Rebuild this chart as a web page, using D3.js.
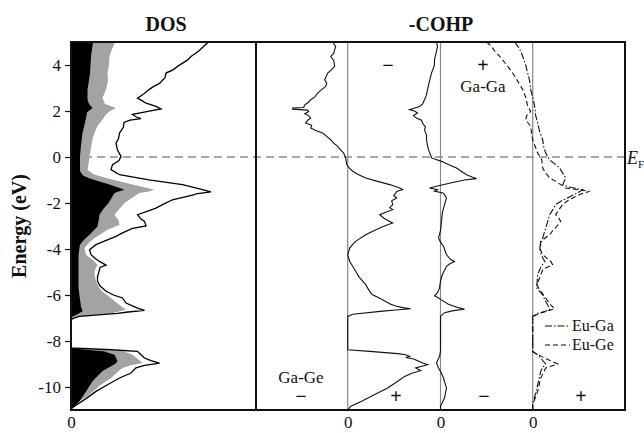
<!DOCTYPE html>
<html>
<head>
<meta charset="utf-8">
<script src="https://cdn.jsdelivr.net/npm/d3@7"></script>
<style>
  body { margin: 0; background: #fff; }
  text { font-family: "Liberation Serif", "Times New Roman", serif; }
</style>
</head>
<body>
<svg id="chart" width="644" height="433"></svg>
<script>
// data: [energy (eV), value]
const dosTotal = [[5.0,27.5],[4.8,26.5],[4.6,25.5],[4.37,24],[4.2,23.2],[3.94,21.3],[3.8,20.5],[3.65,19],[3.45,18.8],[3.2,17.7],[3.05,16.4],[2.93,15.6],[2.75,14.6],[2.56,13.3],[2.45,14.2],[2.35,14.9],[2.2,17],[2.09,18],[1.98,15.4],[1.85,12.3],[1.75,13],[1.67,14],[1.6,11.8],[1.5,10.6],[1.3,10.5],[1.04,9.7],[0.8,9.5],[0.6,9],[0.3,9.3],[0.03,10],[-0.15,9.6],[-0.33,8.3],[-0.55,8.0],[-0.77,9.7],[-0.99,15.6],[-1.2,22.3],[-1.42,26.3],[-1.52,28],[-1.6,25],[-1.64,24.7],[-1.86,20.3],[-2.05,18.5],[-2.22,17],[-2.4,14.8],[-2.51,13.3],[-2.7,14],[-2.8,14.7],[-3.0,15],[-3.1,12.3],[-3.3,10.3],[-3.45,9],[-3.65,6.8],[-3.81,5],[-4.03,3.7],[-4.25,4],[-4.4,4.8],[-4.54,5.7],[-4.7,7],[-4.8,5.8],[-4.9,5.7],[-5.2,5.3],[-5.4,5.3],[-5.6,5.8],[-5.84,7],[-6.0,8.5],[-6.13,10.3],[-6.35,11],[-6.57,13.3],[-6.67,14.7],[-6.75,11],[-6.8,9.3],[-6.93,1.7],[-7.03,0.3],[-7.1,0],[-8.3,0],[-8.38,8],[-8.45,13.3],[-8.6,14],[-8.74,14.7],[-8.85,16],[-8.96,17.7],[-9.06,14.7],[-9.17,13],[-9.39,12],[-9.61,9.7],[-9.9,7.3],[-10.19,5],[-10.55,2.7],[-10.84,0.7],[-10.95,0],[-11,0]];
const dosGray = [[5.0,8.8],[4.7,8.2],[4.37,7.7],[4.0,7.6],[3.65,7.3],[3.3,7.4],[2.93,7],[2.56,6.3],[2.3,6.8],[2.13,9],[2.0,7.8],[1.85,7],[1.6,6.2],[1.35,5.3],[1.0,4.6],[0.77,4.3],[0.4,4.0],[0.03,3.7],[-0.3,3.5],[-0.55,3.3],[-0.75,4.5],[-0.91,7],[-1.2,12.3],[-1.42,16.7],[-1.5,15.5],[-1.57,13.7],[-1.8,12],[-2.0,10.7],[-2.25,9.7],[-2.51,8.7],[-2.75,9.5],[-2.95,9.7],[-3.16,7.3],[-3.52,4.7],[-3.75,3.5],[-3.96,2.7],[-4.25,3],[-4.5,4.5],[-4.7,5.3],[-4.9,4.8],[-5.1,4.7],[-5.4,5],[-5.7,5.7],[-5.84,6.2],[-6.13,8],[-6.43,9.7],[-6.64,11],[-6.8,8],[-6.93,1.3],[-7.03,0.2],[-7.1,0],[-8.3,0],[-8.38,6],[-8.45,10.5],[-8.6,12.3],[-8.8,13.5],[-8.96,14.3],[-9.05,12],[-9.17,10.3],[-9.4,9],[-9.61,8],[-9.9,6],[-10.33,3.7],[-10.77,0.7],[-10.9,0],[-11,0]];
const dosBlack = [[5.0,4.4],[4.37,4.0],[3.65,3.8],[3.2,3.5],[2.93,3.3],[2.5,3.3],[2.3,3.6],[2.13,4.3],[1.95,3.2],[1.7,3.0],[1.3,2.6],[1.04,2.3],[0.5,2.0],[0.03,1.8],[-0.62,1.8],[-0.8,2.4],[-0.91,3.5],[-1.05,5.5],[-1.2,7.7],[-1.42,10.7],[-1.5,9.5],[-1.57,8.7],[-2.0,7.5],[-2.25,6.5],[-2.51,5.7],[-2.8,5.5],[-3.02,5.3],[-3.38,3.7],[-3.6,2.6],[-3.81,1.8],[-4.25,1.5],[-4.97,1.5],[-5.7,1.5],[-6.2,1.8],[-6.5,2.0],[-6.71,2.3],[-6.85,1.2],[-6.93,0.3],[-7.0,0],[-8.3,0],[-8.38,3],[-8.45,6.5],[-8.6,8.7],[-8.88,9.3],[-9.0,8.8],[-9.1,8],[-9.3,6.3],[-9.75,4.3],[-10.2,3],[-10.62,1.7],[-10.84,0.7],[-10.95,0],[-11,0]];

const cohpGaGe = [[5.0,-1.5],[4.8,-1.2],[4.67,-1.3],[4.5,-1.4],[4.38,-1.7],[4.2,-1.4],[3.94,-1.3],[3.8,-1.6],[3.65,-2.0],[3.36,-2.3],[3.2,-2.1],[3.07,-2.2],[2.9,-2.7],[2.78,-3.0],[2.6,-3.3],[2.49,-3.7],[2.35,-4.0],[2.27,-4.3],[2.15,-4.4],[2.13,-5.5],[2.08,-5.5],[2.04,-4.0],[1.98,-3.9],[1.88,-4.3],[1.8,-3.9],[1.69,-3.7],[1.6,-4.0],[1.48,-4.2],[1.38,-3.6],[1.26,-3.7],[1.15,-3.2],[1.04,-2.5],[0.9,-2.1],[0.75,-1.7],[0.6,-1.4],[0.46,-1.0],[0.3,-0.7],[0.17,-0.4],[-0.04,-0.2],[-0.33,-0.1],[-0.5,0.2],[-0.62,0.5],[-0.75,1.0],[-0.91,1.8],[-1.05,2.9],[-1.2,4.2],[-1.35,5.2],[-1.42,5.5],[-1.5,4.9],[-1.57,4.8],[-1.68,4.6],[-1.78,4.9],[-1.9,4.4],[-2.07,4.5],[-2.2,4.2],[-2.29,4.5],[-2.4,3.8],[-2.51,3.2],[-2.65,3.6],[-2.78,4.1],[-2.87,4.5],[-2.98,3.8],[-3.09,3.2],[-3.25,2.4],[-3.38,1.8],[-3.55,1.2],[-3.67,0.8],[-3.8,0.5],[-3.96,0.2],[-4.25,0.0],[-4.54,0.2],[-4.75,0.5],[-4.97,0.8],[-5.2,1.1],[-5.4,1.5],[-5.55,1.8],[-5.7,2.0],[-5.97,2.4],[-6.1,3.0],[-6.26,3.7],[-6.4,4.3],[-6.48,4.8],[-6.55,5.5],[-6.6,6.3],[-6.65,4.8],[-6.7,3.5],[-6.84,0.5],[-6.93,0],[-8.38,0],[-8.45,2.2],[-8.55,5.0],[-8.6,5.8],[-8.67,6.2],[-8.72,5.8],[-8.78,6.6],[-8.86,7.0],[-8.96,7.5],[-9.03,8.0],[-9.1,7.4],[-9.17,6.8],[-9.22,7.0],[-9.29,7.3],[-9.4,6.4],[-9.54,5.7],[-9.75,5.0],[-10.04,4.0],[-10.33,2.7],[-10.62,1.4],[-10.84,0.3],[-11,0]];
const cohpGaGa = [[5.0,-0.4],[4.8,-0.3],[4.6,-0.4],[4.23,-0.6],[4.0,-0.6],[3.65,-0.9],[3.3,-1.1],[2.93,-1.3],[2.7,-1.4],[2.49,-1.6],[2.3,-1.8],[2.2,-2.1],[2.1,-2.8],[2.06,-3.1],[2.0,-2.6],[1.91,-2.3],[1.8,-2.7],[1.69,-2.4],[1.6,-1.9],[1.48,-1.8],[1.3,-1.5],[1.19,-1.6],[0.95,-1.4],[0.75,-1.4],[0.5,-1.3],[0.32,-1.2],[0.1,-1.0],[-0.04,-0.9],[-0.19,0.1],[-0.35,0.9],[-0.48,1.6],[-0.6,2.0],[-0.77,2.6],[-0.88,3.2],[-0.94,3.6],[-1.0,2.4],[-1.13,1.0],[-1.25,-0.2],[-1.35,-1.1],[-1.42,-0.3],[-1.48,-0.6],[-1.57,0.3],[-1.78,0.6],[-2.07,0.4],[-2.4,0.2],[-2.8,0.1],[-3.2,0.0],[-3.52,-0.2],[-3.7,0.0],[-3.88,0.3],[-4.25,0.6],[-4.45,1.0],[-4.54,1.4],[-4.65,0.9],[-4.75,0.6],[-5.1,0.2],[-5.4,0.0],[-5.7,-0.1],[-5.9,-0.3],[-6.04,-0.6],[-6.1,-0.3],[-6.19,0.0],[-6.4,0.8],[-6.55,1.8],[-6.62,2.4],[-6.68,1.3],[-6.77,0.4],[-6.93,0],[-8.45,0],[-8.67,-0.1],[-8.96,-0.4],[-9.17,-0.2],[-9.4,0.1],[-9.61,0.3],[-10.04,0.6],[-10.48,0.4],[-10.84,0],[-11,0]];
const cohpEuGe = [[5.0,-4.6],[4.8,-4.1],[4.6,-3.8],[4.38,-3.3],[4.0,-2.6],[3.65,-2.0],[3.3,-1.5],[2.93,-1.0],[2.6,-0.7],[2.2,-0.5],[1.98,-0.2],[1.8,-0.6],[1.62,-0.7],[1.33,-0.2],[1.0,-0.1],[0.75,0],[0.4,0.3],[0.17,0.5],[-0.12,0.9],[-0.48,1.0],[-0.7,1.3],[-0.91,1.7],[-1.06,2.3],[-1.2,2.8],[-1.35,3.3],[-1.42,4.5],[-1.49,5.7],[-1.6,4.9],[-1.71,4.3],[-1.9,3.5],[-2.07,3.0],[-2.3,2.6],[-2.51,2.3],[-2.65,2.6],[-2.8,2.8],[-3.02,2.4],[-3.2,2.0],[-3.38,1.7],[-3.67,0.8],[-3.96,0.7],[-4.25,1.0],[-4.54,1.8],[-4.68,2.0],[-4.8,1.4],[-4.9,1.0],[-5.25,0.7],[-5.55,0.4],[-5.84,0.8],[-6.13,1.3],[-6.43,1.8],[-6.6,2.2],[-6.7,1.4],[-6.8,0.7],[-6.93,0],[-8.45,0],[-8.52,0.2],[-8.74,1.2],[-8.9,2.0],[-9.0,2.5],[-9.1,1.8],[-9.17,1.3],[-9.61,0.8],[-10.19,0.5],[-10.77,0],[-11,0]];
const cohpEuGa = [[5.0,-1.8],[4.7,-1.3],[4.38,-1.0],[4.0,-0.7],[3.65,-0.5],[3.3,-0.3],[2.93,-0.2],[2.6,0.0],[2.2,0.2],[1.8,0.3],[1.48,0.5],[1.1,0.7],[0.75,1.0],[0.45,1.1],[0.17,1.3],[-0.12,1.7],[-0.3,2.2],[-0.48,2.7],[-0.7,3.0],[-0.91,3.3],[-1.2,3.0],[-1.3,3.6],[-1.42,5.0],[-1.55,4.5],[-1.71,3.8],[-1.9,2.9],[-2.07,2.3],[-2.3,2.0],[-2.51,1.7],[-2.8,1.5],[-3.09,1.3],[-3.52,1.0],[-3.96,0.7],[-4.3,0.9],[-4.54,1.2],[-4.8,0.8],[-5.1,0.5],[-5.7,0.4],[-5.99,1.0],[-6.2,1.2],[-6.43,1.5],[-6.64,1.7],[-6.72,1.2],[-6.8,0.5],[-6.93,0],[-8.45,0],[-8.6,0.5],[-8.8,0.9],[-9.0,1.3],[-9.15,1.0],[-9.32,0.8],[-9.9,0.5],[-10.77,0],[-11,0]];

const energyTicks = [4, 2, 0, -2, -4, -6, -8, -10];

// layout
const svg = d3.select('#chart');
const plotTop = 42, plotBottom = 410, dosLeft = 71, split = 256, plotRight = 625;

const y = d3.scaleLinear().domain([-11, 5]).range([plotBottom, plotTop]);
const xDos = d3.scaleLinear().domain([0, 37]).range([dosLeft, split]);
// COHP sub-panels share one scale width, shifted zero points
const xGaGe = d3.scaleLinear().domain([-9.17, 27.73]).range([split, plotRight]);
const xGaGa = d3.scaleLinear().domain([-18.45, 18.45]).range([split, plotRight]);
const xEu = d3.scaleLinear().domain([-27.67, 9.23]).range([split, plotRight]);

// Fermi level line
svg.append('line')
  .attr('x1', dosLeft).attr('x2', plotRight)
  .attr('y1', y(0)).attr('y2', y(0))
  .attr('stroke', '#555').attr('stroke-width', 1.2)
  .attr('stroke-dasharray', '8,5');

// DOS areas
const area = d3.area()
  .y(d => y(d[0]))
  .x0(xDos(0))
  .x1(d => xDos(d[1]));

svg.append('path').datum(dosGray)
  .attr('d', area).attr('fill', '#a3a3a3');
svg.append('path').datum(dosBlack)
  .attr('d', area).attr('fill', '#000');
svg.append('path').datum(dosTotal)
  .attr('d', d3.line().x(d => xDos(d[1])).y(d => y(d[0])))
  .attr('fill', 'none').attr('stroke', '#000').attr('stroke-width', 1.3);

// zero lines in COHP panel
[xGaGe, xGaGa, xEu].forEach(s => {
  svg.append('line')
    .attr('x1', s(0)).attr('x2', s(0))
    .attr('y1', plotTop).attr('y2', plotBottom)
    .attr('stroke', '#888').attr('stroke-width', 1.2);
});

function cohpLine(data, scale, dash) {
  svg.append('path').datum(data)
    .attr('d', d3.line().x(d => scale(d[1])).y(d => y(d[0])))
    .attr('fill', 'none').attr('stroke', '#111').attr('stroke-width', 1.1)
    .attr('stroke-dasharray', dash);
}
cohpLine(cohpGaGe, xGaGe, null);
cohpLine(cohpGaGa, xGaGa, null);
cohpLine(cohpEuGe, xEu, '5,3');
cohpLine(cohpEuGa, xEu, '7,2,1.5,2');

// frames
svg.append('rect')
  .attr('x', dosLeft).attr('y', plotTop)
  .attr('width', plotRight - dosLeft).attr('height', plotBottom - plotTop)
  .attr('fill', 'none').attr('stroke', '#111').attr('stroke-width', 2);
svg.append('line')
  .attr('x1', split).attr('x2', split).attr('y1', plotTop).attr('y2', plotBottom)
  .attr('stroke', '#111').attr('stroke-width', 2);

// y axis
const yAxis = svg.append('g')
  .attr('transform', 'translate(' + dosLeft + ',0)')
  .call(d3.axisLeft(y).tickValues(energyTicks).tickSize(6).tickPadding(4)
    .tickFormat(d => String(d)));
yAxis.select('.domain').remove();
yAxis.selectAll('line').attr('stroke', '#111').attr('stroke-width', 1.2);
yAxis.selectAll('text')
  .attr('font-family', '"Liberation Serif", serif')
  .attr('font-size', 17).attr('fill', '#111');

// bottom zero labels
[xDos, xGaGe, xGaGa, xEu].forEach(s => {
  const g = svg.append('g')
    .attr('transform', 'translate(0,' + plotBottom + ')')
    .call(d3.axisBottom(s).tickValues([0]).tickSize(0).tickPadding(6)
      .tickFormat(d => String(d)));
  g.select('.domain').remove();
  g.selectAll('text')
    .attr('font-family', '"Liberation Serif", serif')
    .attr('font-size', 17).attr('fill', '#111');
});

// titles
svg.append('text').attr('x', 166).attr('y', 31)
  .attr('text-anchor', 'middle').attr('font-size', 20).attr('font-weight', 'bold')
  .attr('fill', '#111').text('DOS');
svg.append('text').attr('x', 441).attr('y', 31)
  .attr('text-anchor', 'middle').attr('font-size', 20).attr('font-weight', 'bold')
  .attr('fill', '#111').text('-COHP');
svg.append('text')
  .attr('transform', 'translate(26,' + ((plotTop + plotBottom) / 2) + ') rotate(-90)')
  .attr('text-anchor', 'middle').attr('font-size', 20).attr('font-weight', 'bold')
  .attr('fill', '#111').text('Energy (eV)');

// E_F label
const ef = svg.append('text').attr('x', 627).attr('y', y(0) + 7)
  .attr('font-size', 18).attr('fill', '#111');
ef.append('tspan').attr('font-style', 'italic').text('E');
ef.append('tspan').attr('font-size', 11).attr('dy', 4).text('F');

// sign and bond labels
const labels = [
  { t: '\u2212', x: 388, y: 72, s: 20, w: 'bold' },
  { t: '+', x: 483, y: 72, s: 20, w: 'bold' },
  { t: 'Ga-Ga', x: 483, y: 92, s: 17, w: 'normal' },
  { t: 'Ga-Ge', x: 301, y: 383, s: 17, w: 'normal' },
  { t: '\u2212', x: 301, y: 403, s: 20, w: 'bold' },
  { t: '+', x: 396, y: 403, s: 20, w: 'bold' },
  { t: '\u2212', x: 484, y: 403, s: 20, w: 'bold' },
  { t: '+', x: 581, y: 403, s: 20, w: 'bold' }
];
labels.forEach(l => {
  svg.append('text').attr('x', l.x).attr('y', l.y)
    .attr('text-anchor', 'middle').attr('font-size', l.s).attr('font-weight', l.w)
    .attr('fill', '#111').text(l.t);
});

// legend
const legend = [
  { name: 'Eu-Ga', dash: '7,2,1.5,2', y: 326 },
  { name: 'Eu-Ge', dash: '5,3', y: 345 }
];
legend.forEach(l => {
  svg.append('line').attr('x1', 545).attr('x2', 570)
    .attr('y1', l.y).attr('y2', l.y)
    .attr('stroke', '#111').attr('stroke-width', 1.1)
    .attr('stroke-dasharray', l.dash);
  svg.append('text').attr('x', 572).attr('y', l.y + 5)
    .attr('font-size', 16).attr('fill', '#111').text(l.name);
});
</script>
</body>
</html>
